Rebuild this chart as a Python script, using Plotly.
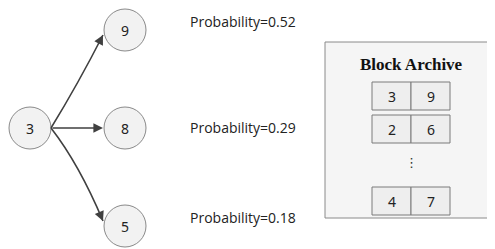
import plotly.graph_objects as go

# Data
source_label = "3"
source_pos = (30, 128)
child_labels = ["9", "8", "5"]
child_pos = [(125, 30), (125, 128), (125, 226)]
probabilities = [0.52, 0.29, 0.18]
prob_y = [21, 127, 217]
archive_title = "Block Archive"
archive_rows = [["3", "9"], ["2", "6"], ["4", "7"]]
archive_row_y = [96, 129, 201]

R = 21
OFF = 8  # page body margin
fig = go.Figure()
fig.update_layout(
    width=495 - OFF, height=249 - OFF, margin=dict(l=0, r=0, t=0, b=0),
    plot_bgcolor="white", paper_bgcolor="white", showlegend=False,
    xaxis=dict(range=[OFF, 495], visible=False, fixedrange=True),
    yaxis=dict(range=[249, OFF], visible=False, fixedrange=True),
)

shapes = []
annotations = []
circ_line = dict(color="#8a8a8a", width=1)
circ_fill = "#f2f2f2"
EDGE = "#404040"

def circle(cx, cy, label):
    shapes.append(dict(type="circle", xref="x", yref="y", x0=cx - R, x1=cx + R,
                       y0=cy - R, y1=cy + R, line=circ_line, fillcolor=circ_fill, layer="above"))
    annotations.append(dict(x=cx, y=cy, xref="x", yref="y", text=label, showarrow=False,
                            font=dict(family="Noto Sans", size=14, color="#222")))

circle(*source_pos, source_label)
for lab, (cx, cy) in zip(child_labels, child_pos):
    circle(cx, cy, lab)

# Edges
sx, sy = source_pos[0] + R, source_pos[1]
for (cx, cy) in child_pos:
    if cy == sy:
        annotations.append(dict(x=cx - R - 1, y=cy, ax=sx, ay=sy, xref="x", yref="y", axref="x", ayref="y",
                                showarrow=True, arrowhead=2, arrowsize=1.2, arrowwidth=1.6,
                                arrowcolor=EDGE, text=""))
    else:
        up = cy < sy
        ex, ey = cx - R - 1, cy + (5 if up else -5)
        ctrl = (78, 84) if up else (79, 164)
        dx, dy = ex - ctrl[0], ey - ctrl[1]
        n = (dx * dx + dy * dy) ** 0.5
        tx, ty = ex - 9 * dx / n, ey - 9 * dy / n
        shapes.append(dict(type="path", xref="x", yref="y",
                           path=f"M {sx},{sy} Q {ctrl[0]},{ctrl[1]} {ex},{ey}",
                           line=dict(color=EDGE, width=1.6)))
        annotations.append(dict(x=ex, y=ey, ax=tx, ay=ty, xref="x", yref="y", axref="x", ayref="y",
                                showarrow=True, arrowhead=2, arrowsize=1.2, arrowwidth=1.6,
                                arrowcolor=EDGE, text=""))

# Probability labels
for p, y in zip(probabilities, prob_y):
    annotations.append(dict(x=188, y=y, xref="x", yref="y", xanchor="left", showarrow=False,
                            text=f"Probability={p:.2f}",
                            font=dict(family="Open Sans", size=14, color="#222")))

# Archive box
shapes.append(dict(type="rect", xref="x", yref="y", x0=325, x1=493, y0=42, y1=218,
                   line=dict(color="#8a8a8a", width=1), fillcolor="#f5f5f5", layer="below"))
annotations.append(dict(x=411, y=64, xref="x", yref="y", text=f"<b>{archive_title}</b>", showarrow=False,
                        font=dict(family="Liberation Serif", size=17, color="#111")))
for row, y in zip(archive_rows, archive_row_y):
    for j, val in enumerate(row):
        x0 = 372 + j * 39
        shapes.append(dict(type="rect", xref="x", yref="y", x0=x0, x1=x0 + 39, y0=y - 14, y1=y + 14,
                           line=dict(color="#7a7a7a", width=1), fillcolor="#eeeeee"))
        annotations.append(dict(x=x0 + 19.5, y=y, xref="x", yref="y", text=val, showarrow=False,
                                font=dict(family="Noto Sans", size=14, color="#222")))
# vertical ellipsis
annotations.append(dict(x=411, y=162, xref="x", yref="y", text="⋮", showarrow=False,
                        font=dict(family="DejaVu Sans", size=13, color="#333")))

fig.update_layout(shapes=shapes, annotations=annotations)
fig.write_html("out.html")
